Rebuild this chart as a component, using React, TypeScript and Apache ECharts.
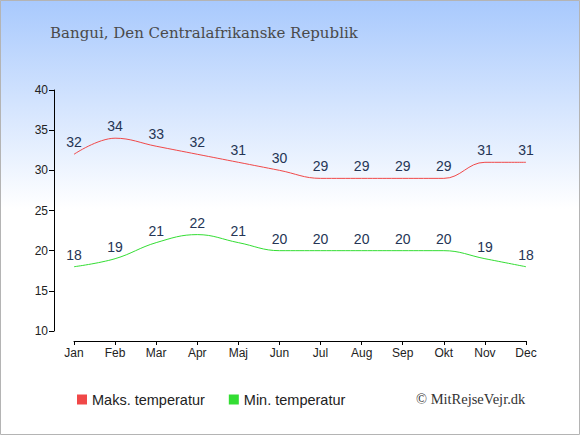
import React, { useEffect, useRef } from "react";
import * as echarts from "echarts";

const months = ["Jan", "Feb", "Mar", "Apr", "Maj", "Jun", "Jul", "Aug", "Sep", "Okt", "Nov", "Dec"];
const maxTemp = [32, 34, 33, 32, 31, 30, 29, 29, 29, 29, 31, 31];
const minTemp = [18, 19, 21, 22, 21, 20, 20, 20, 20, 20, 19, 18];
const titleText = "Bangui, Den Centralafrikanske Republik";
const maxName = "Maks. temperatur";
const minName = "Min. temperatur";
const copyright = "© MitRejseVejr.dk";

export default function App() {
  const ref = useRef<HTMLDivElement>(null);
  useEffect(() => {
    document.body.style.margin = "0";
    const chart = echarts.init(ref.current!, null, { renderer: "svg" });
    const labelStyle = {
      show: true,
      position: "top" as const,
      distance: 5,
      fontSize: 14,
      color: "#253555",
      fontFamily: "Liberation Sans",
    };
    chart.setOption({
      animation: false,
      backgroundColor: {
        type: "linear",
        x: 0, y: 0, x2: 0, y2: 1,
        colorStops: [
          { offset: 0, color: "#a8c9fd" },
          { offset: 0.48, color: "#ffffff" },
          { offset: 1, color: "#ffffff" },
        ],
      },
      title: {
        text: titleText,
        left: 45,
        top: 20,
        textStyle: { fontFamily: "DejaVu Serif", fontSize: 15, fontWeight: "normal", color: "#4a4a4a" },
      },
      legend: {
        left: 72,
        top: 387,
        itemWidth: 10,
        itemHeight: 10,
        itemGap: 24,
        icon: "rect",
        textStyle: { fontFamily: "Liberation Sans", fontSize: 14.5, color: "#222" },
        data: [
          { name: maxName, itemStyle: { color: "#f04848" } },
          { name: minName, itemStyle: { color: "#33dd33" } },
        ],
      },
      graphic: [
        {
          type: "rect",
          shape: { x: 0.5, y: 0.5, width: 579, height: 434 },
          style: { fill: "none", stroke: "#b4b4b4", lineWidth: 1 },
          silent: true,
        },
        {
          type: "text",
          left: 416,
          top: 391,
          style: { text: copyright, fontFamily: "Liberation Serif", fontSize: 14.5, fill: "#333" },
        },
      ],
      grid: [
        { left: 54, right: 54, top: 90, bottom: 104 },
        { left: 74, right: 54, top: 90, bottom: 104 },
      ],
      xAxis: [
        { type: "value", gridIndex: 0, show: false },
        {
          type: "category",
          gridIndex: 1,
          data: months,
          boundaryGap: false,
          offset: 10,
          axisLine: { lineStyle: { color: "#000", width: 1 } },
          axisTick: { length: 4, lineStyle: { color: "#000" } },
          axisLabel: { fontFamily: "Liberation Sans", fontSize: 12, color: "#222", margin: 6 },
        },
      ],
      yAxis: [
        {
          type: "value",
          gridIndex: 0,
          min: 10,
          max: 40,
          interval: 5,
          axisLine: { show: true, lineStyle: { color: "#000", width: 1 } },
          axisTick: { show: true, length: 5, lineStyle: { color: "#000" } },
          splitLine: { show: false },
          axisLabel: { fontFamily: "Liberation Sans", fontSize: 12, color: "#222", margin: 6 },
        },
        { type: "value", gridIndex: 1, min: 10, max: 40, show: false, splitLine: { show: false } },
      ],
      series: [
        {
          name: maxName,
          type: "line",
          xAxisIndex: 1,
          yAxisIndex: 1,
          data: maxTemp,
          smooth: 0.4,
          symbol: "circle",
          symbolSize: 0,
          lineStyle: { color: "#f04848", width: 1 },
          itemStyle: { color: "#f04848" },
          label: labelStyle,
        },
        {
          name: minName,
          type: "line",
          xAxisIndex: 1,
          yAxisIndex: 1,
          data: minTemp,
          smooth: 0.4,
          symbol: "circle",
          symbolSize: 0,
          lineStyle: { color: "#33dd33", width: 1 },
          itemStyle: { color: "#33dd33" },
          label: labelStyle,
        },
      ],
    });
    return () => chart.dispose();
  }, []);
  return <div ref={ref} style={{ width: 580, height: 435 }} />;
}
